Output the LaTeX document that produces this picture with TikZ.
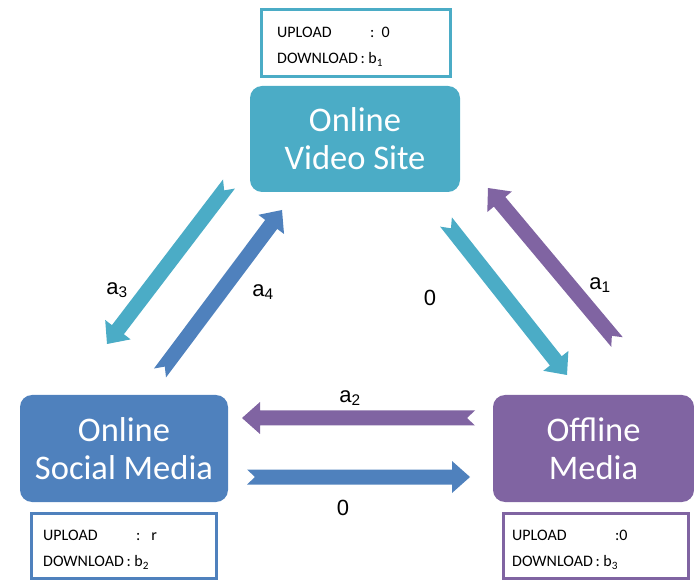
\documentclass[tikz,border=0pt]{standalone}
\usepackage{fontspec}
\setmainfont{Carlito}
\newfontfamily\labelfont{Liberation Sans}
\usetikzlibrary{calc}
\definecolor{vidcol}{HTML}{4BACC6}
\definecolor{soccol}{HTML}{4F81BD}
\definecolor{offcol}{HTML}{8064A2}
% block arrow with a notched tail: #1 tail, #2 tip, #3 colour
\newcommand\blockarrow[3]{%
  \coordinate (ba-neck) at ($(#2)!18pt!(#1)$);
  \fill[#3] ($(#1)!7.5pt!90:(#2)$) -- ($(ba-neck)!7.5pt!90:(#2)$)
    -- ($(ba-neck)!16pt!90:(#2)$) -- (#2)
    -- ($(ba-neck)!16pt!-90:(#2)$) -- ($(ba-neck)!7.5pt!-90:(#2)$)
    -- ($(#1)!7.5pt!-90:(#2)$) -- ($(#1)!8pt!(#2)$) -- cycle;}
\begin{document}
\begin{tikzpicture}[x=1pt,y=-1pt,
  mainbox/.style={rectangle, rounded corners=12pt, text=white, align=center,
    inner sep=0pt, font=\fontsize{34.5}{38}\selectfont},
  infobox/.style={draw=#1, line width=3pt, fill=white, inner sep=0pt},
  infotext/.style={anchor=west, align=left, inner sep=0pt,
    font=\fontsize{16}{26}\selectfont},
  arrowlabel/.style={inner sep=0pt, font=\labelfont\fontsize{22}{22}\selectfont}]
\useasboundingbox (0,0) rectangle (694,585);

% the three media
\node[mainbox, fill=vidcol, minimum width=210pt, minimum height=106pt] (video) at (355,139) {Online\\Video Site};
\node[mainbox, fill=soccol, minimum width=208pt, minimum height=107pt] (social) at (124,448.5) {Online\\Social Media};
\node[mainbox, fill=offcol, minimum width=201pt, minimum height=107pt] (offline) at (593.5,448.5) {Offline\\Media};

% upload / download boxes
\node[infobox=vidcol, minimum width=189pt, minimum height=67pt] (videoinfo) at (356,43) {};
\node[infotext] (videotxt) at (277,47) {\makebox[93pt][l]{UPLOAD}:\ \ 0\\DOWNLOAD\,: b\textsubscript{1}};
\node[infobox=soccol, minimum width=185pt, minimum height=65pt] (socialinfo) at (124,546) {};
\node[infotext] (socialtxt) at (43,550) {\makebox[93pt][l]{UPLOAD}:\ \ \ r\\DOWNLOAD\,: b\textsubscript{2}};
\node[infobox=offcol, minimum width=185pt, minimum height=65pt] (offlineinfo) at (596,546) {};
\node[infotext] (offlinetxt) at (512,550) {\makebox[103pt][l]{UPLOAD}:0\\DOWNLOAD\,: b\textsubscript{3}};

% arrow end points
\coordinate (a3-tail) at (229,184);
\coordinate (a3-tip) at (107,344);
\coordinate (a4-tail) at (160,373);
\coordinate (a4-tip) at (282,210);
\coordinate (vo-tail) at (446,222);
\coordinate (vo-tip) at (567,375);
\coordinate (a1-tail) at (617,342);
\coordinate (a1-tip) at (488,188);
\coordinate (a2-tail) at (475,418);
\coordinate (a2-tip) at (242,418);
\coordinate (so-tail) at (247,477);
\coordinate (so-tip) at (470,477);

\blockarrow{a3-tail}{a3-tip}{vidcol}
\blockarrow{a4-tail}{a4-tip}{soccol}
\blockarrow{vo-tail}{vo-tip}{vidcol}
\blockarrow{a1-tail}{a1-tip}{offcol}
\blockarrow{a2-tail}{a2-tip}{offcol}
\blockarrow{so-tail}{so-tip}{soccol}

% arrow labels
\node[arrowlabel] (la3) at (117,290) {a\textsubscript{3}};
\node[arrowlabel] (la4) at (263,292) {a\textsubscript{4}};
\node[arrowlabel] (lvo) at (430,298) {0};
\node[arrowlabel] (la1) at (600,285) {a\textsubscript{1}};
\node[arrowlabel] (la2) at (350,398) {a\textsubscript{2}};
\node[arrowlabel] (lso) at (343,508) {0};
\end{tikzpicture}
\end{document}
